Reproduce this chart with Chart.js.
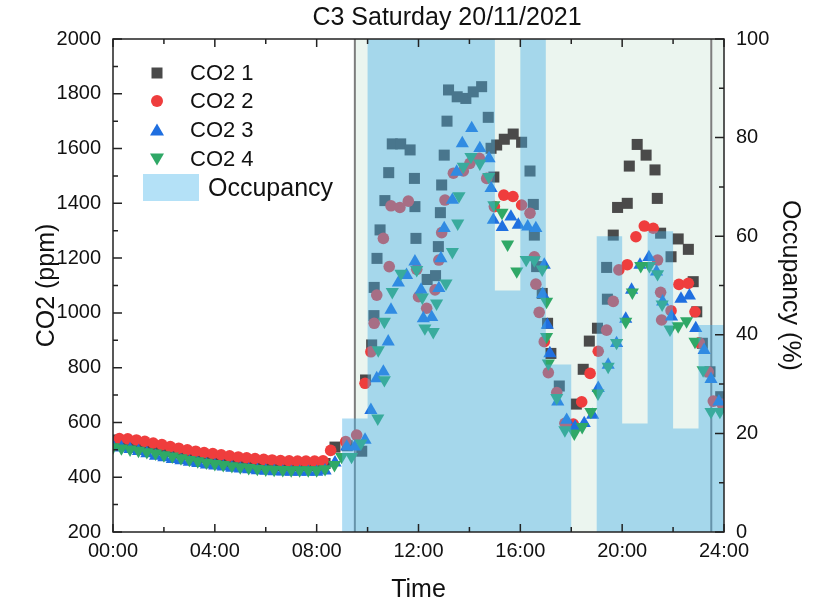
<!DOCTYPE html>
<html>
<head>
<meta charset="utf-8">
<script src="https://cdn.jsdelivr.net/npm/chart.js@4/dist/chart.umd.min.js"></script>
<style>
  html, body { margin: 0; padding: 0; background: #fff; }
  #chart { display: block; }
</style>
</head>
<body>
<canvas id="chart" width="823" height="606"></canvas>
<script>
// ---- data (hours of the day, ppm) ----
const co2_1_time = [0, 0.33, 0.67, 1, 1.33, 1.67, 2, 2.33, 2.67, 3, 3.33, 3.67, 4, 4.33, 4.67, 5, 5.33, 5.67, 6, 6.33, 6.67, 7, 7.33, 7.67, 8, 8.33,
  8.72, 9.2, 9.77, 9.92, 10.16, 10.25, 10.26, 10.37, 10.49, 10.68, 10.83, 10.97, 11.3, 11.67, 11.84, 11.86, 11.9, 12.34, 12.67, 12.78, 12.86, 12.91,
  13.01, 13.12, 13.18, 13.52, 13.86, 14.15, 14.48, 14.74, 14.85, 14.96, 15.07, 15.37, 15.72, 16.05, 16.38, 16.51, 16.55, 16.64, 16.86, 17.07,
  17.2, 17.53, 18.2, 18.47, 18.71, 19.03, 19.42, 19.39, 19.65, 19.82, 20.2, 20.28, 20.59, 20.94, 21.29, 21.38, 21.51, 21.92, 22.2, 22.6, 22.79,
  22.93, 23.15, 23.45, 23.87];
const co2_1_ppm = [536, 532, 527, 521, 515, 508, 500, 494, 488, 482, 476, 471, 466, 461, 457, 453, 450, 447, 445, 444, 443, 442, 442, 442, 443, 450,
  510, 515, 495, 755, 883, 990, 1093, 1199, 1303, 1410, 1512, 1617, 1617, 1595, 1491, 1388, 1272, 1122, 1136, 1242, 1366, 1467,
  1576, 1700, 1814, 1789, 1783, 1807, 1826, 1714, 1601, 1496, 1613, 1634, 1653, 1623, 1518, 1396, 1284, 1169, 1071, 962,
  852, 733, 667, 794, 897, 944, 1050, 1166, 1284, 1385, 1400, 1536, 1615, 1576, 1522, 1418, 1291, 1205, 1270, 1232, 1114,
  1004, 889, 785, 694];

const co2_2_time = [0.25, 0.58, 0.92, 1.25, 1.58, 1.92, 2.25, 2.58, 2.92, 3.25, 3.58, 3.92, 4.25, 4.58, 4.92, 5.25, 5.58, 5.92, 6.25, 6.58, 6.92, 7.25, 7.58, 7.92, 8.25,
  8.55, 9.14, 9.57, 9.9, 10.13, 10.26, 10.36, 10.62, 10.85, 10.92, 11.27, 11.6, 11.93, 12.0, 12.32, 12.65, 12.8, 12.91, 13.04, 13.37, 13.76,
  14.02, 14.39, 14.68, 14.98, 15.35, 15.71, 16.05, 16.38, 16.55, 16.61, 16.74, 16.94, 17.1, 17.43, 17.75, 18.08, 18.41, 18.74, 19.06, 19.39,
  19.65, 19.87, 20.2, 20.54, 20.87, 21.22, 21.39, 21.51, 21.55, 21.92, 22.23, 22.6, 22.86, 23.03, 23.38, 23.58, 23.93];
const co2_2_ppm = [541, 540, 536, 531, 525, 519, 512, 506, 500, 495, 490, 486, 482, 478, 474, 471, 468, 465, 463, 461, 460, 459, 459, 459, 460,
  498, 530, 554, 743, 858, 962, 1065, 1272, 1169, 1391, 1385, 1408, 1159, 1059, 1017, 1084, 1193, 1293, 1412, 1510, 1518,
  1546, 1564, 1491, 1388, 1430, 1425, 1394, 1364, 1205, 1105, 1002, 895, 782, 709, 597, 594, 675, 779, 860, 937,
  1042, 1157, 1176, 1278, 1317, 1309, 1193, 1075, 974, 1008, 1104, 1108, 1004, 891, 785, 678, 666];

const co2_3_time = [0, 0.33, 0.67, 1, 1.33, 1.67, 2, 2.33, 2.67, 3, 3.33, 3.67, 4, 4.33, 4.67, 5, 5.33, 5.67, 6, 6.33, 6.67, 7, 7.33, 7.67, 8, 8.33,
  8.72, 9.18, 9.5, 9.9, 10.13, 10.36, 10.62, 10.81, 10.92, 11.21, 11.53, 11.86, 12.1, 12.19, 12.52, 12.8, 12.88, 13.01, 13.33, 13.5, 13.72,
  14.09, 14.41, 14.77, 14.85, 14.94, 15.29, 15.63, 15.92, 16.29, 16.61, 16.94, 16.88, 17.06, 17.16, 17.47, 17.82, 18.15, 18.51, 18.84, 19.06,
  19.45, 19.78, 20.14, 20.37, 20.7, 21.05, 21.35, 21.59, 21.94, 22.31, 22.64, 22.89, 23.22, 23.49, 23.8];
const co2_3_ppm = [512, 508, 502, 495, 487, 478, 472, 466, 461, 456, 451, 446, 442, 438, 434, 431, 428, 425, 423, 421, 420, 419, 419, 419, 419, 424,
  453, 511, 511, 536, 645, 761, 785, 895, 1011, 1110, 1138, 1187, 1084, 980, 984, 1090, 1199, 1309, 1412, 1515, 1619,
  1674, 1601, 1564, 1455, 1339, 1313, 1351, 1321, 1315, 1309, 1175, 1068, 956, 852, 676, 609, 584, 597, 627, 725,
  810, 889, 978, 1084, 1175, 1203, 1150, 1041, 986, 1051, 1063, 944, 864, 758, 676];

const co2_4_time = [0, 0.33, 0.67, 1, 1.33, 1.67, 2, 2.33, 2.67, 3, 3.33, 3.67, 4, 4.33, 4.67, 5, 5.33, 5.67, 6, 6.33, 6.67, 7, 7.33, 7.67, 8, 8.33,
  8.7, 8.98, 9.37, 9.74, 10.4, 10.66, 10.42, 10.66, 10.97, 11.31, 11.93, 12.15, 12.25, 12.58, 12.71, 13.08, 13.33, 13.54, 13.59, 13.76,
  14.06, 14.41, 14.76, 14.96, 15.28, 15.5, 15.86, 16.23, 16.55, 16.86, 17.03, 17.03, 17.1, 17.43, 17.75, 18.12, 18.43, 18.77, 19.05,
  19.45, 19.78, 20.14, 20.4, 20.73, 21.07, 21.39, 21.57, 21.88, 22.2, 22.53, 22.86, 23.18, 23.49, 23.84];
const co2_4_ppm = [510, 506, 502, 497, 492, 487, 481, 476, 470, 464, 459, 454, 449, 445, 441, 437, 434, 431, 429, 428, 427, 426, 426, 426, 426, 430,
  445, 475, 475, 524, 615, 755, 864, 968, 1077, 1144, 1157, 1057, 944, 931, 1035, 1108, 1223, 1327, 1427, 1534,
  1570, 1546, 1497, 1394, 1366, 1250, 1152, 1194, 1193, 1159, 1041, 913, 816, 690, 572, 560, 584, 639, 706,
  804, 891, 968, 1075, 1172, 1172, 1142, 1031, 940, 952, 970, 895, 791, 639, 639];

// occupancy (%) per hour, the last entry closes the 23:00-24:00 step
const occHours = [0, 1, 2, 3, 4, 5, 6, 7, 8, 9, 10, 11, 12, 13, 14, 15, 16, 17, 18, 19, 20, 21, 22, 23, 24];
const occValues = [0, 0, 0, 0, 0, 0, 0, 0, 0, 23, 100, 100, 100, 100, 100, 49, 100, 34, 0, 60, 22, 61, 21, 42, 42];

// opening hours shading and the two marker lines
const openSpan = [9.5, 24];
const markerHours = [9.5, 23.5];

const xTicks = [0, 4, 8, 12, 16, 20, 24];
const xTickLabels = ["00:00", "04:00", "08:00", "12:00", "16:00", "20:00", "24:00"];
const xMinor = [2, 6, 10, 14, 18, 22];
const yTicks = [200, 400, 600, 800, 1000, 1200, 1400, 1600, 1800, 2000];
const yMinor = [300, 500, 700, 900, 1100, 1300, 1500, 1700, 1900];
const y1Ticks = [0, 20, 40, 60, 80, 100];
const y1Minor = [10, 30, 50, 70, 90];

const FONT = '"Liberation Sans", Arial, sans-serif';

function zip(t, v) {
  return t.map((x, i) => ({ x: x, y: v[i] }));
}

// frame, inward ticks, title and legend
const decorPlugin = {
  id: "decor",
  afterDatasetsDraw(chart) {
    const { ctx, chartArea: a, scales } = chart;
    ctx.save();
    ctx.strokeStyle = "#222";
    ctx.lineWidth = 1.5;
    ctx.strokeRect(a.left, a.top, a.right - a.left, a.bottom - a.top);
    ctx.beginPath();
    const tx = (vals, len) => vals.forEach(v => {
      const px = scales.x.getPixelForValue(v);
      ctx.moveTo(px, a.bottom); ctx.lineTo(px, a.bottom - len);
      ctx.moveTo(px, a.top); ctx.lineTo(px, a.top + len);
    });
    tx(xTicks, 8); tx(xMinor, 5);
    yTicks.forEach(v => { const py = scales.y.getPixelForValue(v); ctx.moveTo(a.left, py); ctx.lineTo(a.left + 9, py); });
    yMinor.forEach(v => { const py = scales.y.getPixelForValue(v); ctx.moveTo(a.left, py); ctx.lineTo(a.left + 5, py); });
    y1Ticks.forEach(v => { const py = scales.y1.getPixelForValue(v); ctx.moveTo(a.right, py); ctx.lineTo(a.right - 9, py); });
    y1Minor.forEach(v => { const py = scales.y1.getPixelForValue(v); ctx.moveTo(a.right, py); ctx.lineTo(a.right - 5, py); });
    ctx.stroke();
    ctx.restore();
  },
  afterDraw(chart) {
    const { ctx } = chart;
    ctx.save();
    ctx.fillStyle = "#111";
    ctx.textAlign = "center";
    ctx.textBaseline = "middle";
    ctx.font = "25px " + FONT;
    ctx.fillText("C3 Saturday 20/11/2021", 447, 18);

    // legend
    const rows = [
      { label: "CO2 1", shape: "square", color: "#4a4a4a", y: 73 },
      { label: "CO2 2", shape: "circle", color: "#ef3d3d", y: 101 },
      { label: "CO2 3", shape: "up", color: "#1f6fe0", y: 130 },
      { label: "CO2 4", shape: "down", color: "#2fa866", y: 159 }
    ];
    const mx = 157;
    rows.forEach(r => {
      ctx.fillStyle = r.color;
      ctx.beginPath();
      if (r.shape === "square") ctx.rect(mx - 5.5, r.y - 5.5, 11, 11);
      if (r.shape === "circle") ctx.arc(mx, r.y, 6, 0, Math.PI * 2);
      if (r.shape === "up") { ctx.moveTo(mx, r.y - 6.5); ctx.lineTo(mx + 7, r.y + 5.5); ctx.lineTo(mx - 7, r.y + 5.5); ctx.closePath(); }
      if (r.shape === "down") { ctx.moveTo(mx, r.y + 6.5); ctx.lineTo(mx + 7, r.y - 5.5); ctx.lineTo(mx - 7, r.y - 5.5); ctx.closePath(); }
      ctx.fill();
      ctx.fillStyle = "#111";
      ctx.textAlign = "left";
      ctx.font = "22px " + FONT;
      ctx.fillText(r.label, 190, r.y + 1);
    });
    ctx.fillStyle = "#b4e1f7";
    ctx.fillRect(143, 174, 56, 27);
    ctx.fillStyle = "#111";
    ctx.font = "25px " + FONT;
    ctx.fillText("Occupancy", 208, 189);
    ctx.restore();
  }
};

const markerBase = { type: "scatter", yAxisID: "y", pointBorderWidth: 0, pointHoverRadius: 7 };

new Chart(document.getElementById("chart"), {
  type: "scatter",
  data: {
    datasets: [
      {
        type: "line", label: "Occupancy", yAxisID: "y1", order: 0,
        data: zip(occHours, occValues), stepped: true, fill: "origin",
        backgroundColor: "rgba(72, 176, 230, 0.43)", borderWidth: 0, pointRadius: 0
      },
      Object.assign({}, markerBase, {
        label: "CO2 4", order: 1, data: zip(co2_4_time, co2_4_ppm),
        pointStyle: "triangle", rotation: 180, pointRadius: 7.6, backgroundColor: "#2fa866"
      }),
      Object.assign({}, markerBase, {
        label: "CO2 3", order: 2, data: zip(co2_3_time, co2_3_ppm),
        pointStyle: "triangle", pointRadius: 7.6, backgroundColor: "#1f6fe0"
      }),
      Object.assign({}, markerBase, {
        label: "CO2 2", order: 3, data: zip(co2_2_time, co2_2_ppm),
        pointStyle: "circle", pointRadius: 5.8, backgroundColor: "#ef3d3d"
      }),
      Object.assign({}, markerBase, {
        label: "CO2 1", order: 4, data: zip(co2_1_time, co2_1_ppm),
        pointStyle: "rect", pointRadius: 7.8, backgroundColor: "#4a4a4a"
      }),
      {
        type: "line", label: "m1", yAxisID: "y1", order: 5,
        data: [{ x: markerHours[0], y: 0 }, { x: markerHours[0], y: 100 }],
        borderColor: "#7d7d7d", borderWidth: 2, pointRadius: 0, fill: false
      },
      {
        type: "line", label: "m2", yAxisID: "y1", order: 5,
        data: [{ x: markerHours[1], y: 0 }, { x: markerHours[1], y: 100 }],
        borderColor: "#7d7d7d", borderWidth: 2, pointRadius: 0, fill: false
      },
      {
        type: "line", label: "open", yAxisID: "y1", order: 6,
        data: [{ x: openSpan[0], y: 100 }, { x: openSpan[1], y: 100 }],
        fill: "origin", backgroundColor: "#ebf5ef", borderWidth: 0, pointRadius: 0
      }
    ]
  },
  options: {
    responsive: false,
    animation: false,
    devicePixelRatio: 1,
    layout: { padding: { top: 39, left: 0, right: 0, bottom: 0 } },
    plugins: { legend: { display: false }, tooltip: { enabled: false }, title: { display: false } },
    scales: {
      x: {
        type: "linear", position: "bottom", min: 0, max: 24,
        grid: { display: false, drawTicks: false },
        border: { display: false },
        afterBuildTicks: s => { s.ticks = xTicks.map(v => ({ value: v })); },
        afterFit: s => { s.height = 74; },
        ticks: {
          autoSkip: false, maxRotation: 0, padding: 7, color: "#111",
          font: { family: FONT, size: 20 },
          callback: (v, i) => xTickLabels[i]
        },
        title: { display: true, text: "Time", color: "#111", font: { family: FONT, size: 25 }, padding: { top: 0, bottom: 1 } }
      },
      y: {
        type: "linear", position: "left", min: 200, max: 2000,
        grid: { display: false, drawTicks: false },
        border: { display: false },
        afterBuildTicks: s => { s.ticks = yTicks.map(v => ({ value: v })); },
        afterFit: s => { s.width = 113; },
        ticks: { padding: 12, color: "#111", font: { family: FONT, size: 20 }, callback: v => String(v) },
        title: { display: true, text: "CO2 (ppm)", color: "#111", font: { family: FONT, size: 25 }, padding: { top: 32, bottom: 0 } }
      },
      y1: {
        type: "linear", position: "right", min: 0, max: 100,
        grid: { display: false, drawTicks: false },
        border: { display: false },
        afterBuildTicks: s => { s.ticks = y1Ticks.map(v => ({ value: v })); },
        afterFit: s => { s.width = 99; },
        ticks: { padding: 12, color: "#111", font: { family: FONT, size: 20 }, callback: v => String(v) },
        title: { display: true, text: "Occupancy (%)", color: "#111", font: { family: FONT, size: 25 }, padding: { top: 18, bottom: 0 } }
      }
    }
  },
  plugins: [decorPlugin]
});
</script>
</body>
</html>
